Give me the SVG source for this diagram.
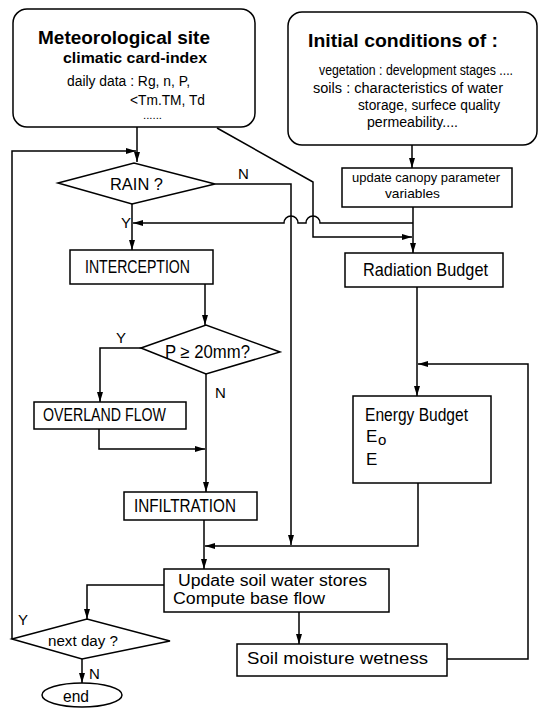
<svg xmlns="http://www.w3.org/2000/svg" width="540" height="716" viewBox="0 0 540 716">
<style>
.box{fill:#fff;stroke:#000;stroke-width:1.5}
.ln{fill:none;stroke:#000;stroke-width:1.5}
text{font-family:"Liberation Sans",Arial,sans-serif;fill:#000}
.b{font-weight:bold}
</style>
<defs>
<marker id="ar" markerUnits="userSpaceOnUse" markerWidth="10" markerHeight="6" refX="10" refY="3" orient="auto">
<path d="M0,0 L10,3 L0,6 z" fill="#000"/>
</marker>
</defs>
<rect width="540" height="716" fill="#fff"/>

<g id="connectors">
<path class="ln" d="M137 127 L137 162" marker-end="url(#ar)"/>
<path class="ln" d="M12 639 L12 151 L136 151" marker-end="url(#ar)"/>
<path class="ln" d="M215 184 L291 184 L291 545" marker-end="url(#ar)"/>
<path class="ln" d="M217 128 L313 182 L313 237 L412 237" marker-end="url(#ar)"/>
<path class="ln" d="M412 145 L412 168" marker-end="url(#ar)"/>
<path class="ln" d="M413 207 L413 253" marker-end="url(#ar)"/>
<path class="ln" d="M413 223 L320 223 A7 7 0 0 0 306 223 L298 223 A7 7 0 0 0 284 223 L133 223" marker-end="url(#ar)"/>
<path class="ln" d="M132 204 L132 250" marker-end="url(#ar)"/>
<path class="ln" d="M205 284 L205 325" marker-end="url(#ar)"/>
<path class="ln" d="M141 348 L100 348 L100 402" marker-end="url(#ar)"/>
<path class="ln" d="M206 374 L206 492" marker-end="url(#ar)"/>
<path class="ln" d="M99 429 L99 449 L205 449" marker-end="url(#ar)"/>
<path class="ln" d="M204 520 L204 569" marker-end="url(#ar)"/>
<path class="ln" d="M418 483 L418 546 L205 546" marker-end="url(#ar)"/>
<path class="ln" d="M164 585 L87 585 L87 619" marker-end="url(#ar)"/>
<path class="ln" d="M299 612 L299 644" marker-end="url(#ar)"/>
<path class="ln" d="M447 659 L528 659 L528 364 L418 364" marker-end="url(#ar)"/>
<path class="ln" d="M417 287 L417 396" marker-end="url(#ar)"/>
<path class="ln" d="M82 659 L82 683" marker-end="url(#ar)"/>
<text x="238" y="179" font-size="15">N</text>
<text x="121" y="228" font-size="15">Y</text>
<text x="116" y="343" font-size="15">Y</text>
<text x="215" y="398" font-size="15">N</text>
<text x="18" y="625" font-size="15">Y</text>
<text x="89" y="679" font-size="15">N</text>
</g>

<g id="meteo">
<rect class="box" x="13" y="9" width="242" height="118" rx="14"/>
<text class="b" x="38" y="44" font-size="18" textLength="172" lengthAdjust="spacingAndGlyphs">Meteorological site</text>
<text class="b" x="63" y="63" font-size="15" textLength="144" lengthAdjust="spacingAndGlyphs">climatic card-index</text>
<text x="67" y="86" font-size="14" textLength="123" lengthAdjust="spacingAndGlyphs">daily data : Rg, n, P,</text>
<text x="130" y="105" font-size="14" textLength="75" lengthAdjust="spacingAndGlyphs">&lt;Tm.TM, Td</text>
<text x="143" y="119" font-size="10" textLength="19" lengthAdjust="spacingAndGlyphs">......</text>
</g>

<g id="initial">
<rect class="box" x="288" y="12" width="249" height="133" rx="14"/>
<text class="b" x="308" y="47" font-size="19" textLength="190" lengthAdjust="spacingAndGlyphs">Initial conditions of :</text>
<text x="319" y="75" font-size="14" textLength="194" lengthAdjust="spacingAndGlyphs">vegetation : development stages ....</text>
<text x="313" y="93" font-size="14" textLength="190" lengthAdjust="spacingAndGlyphs">soils : characteristics of water</text>
<text x="358" y="110" font-size="14" textLength="142" lengthAdjust="spacingAndGlyphs">storage, surfece quality</text>
<text x="367" y="127" font-size="14" textLength="91" lengthAdjust="spacingAndGlyphs">permeability....</text>
</g>

<g id="canopy">
<rect class="box" x="342" y="168" width="170" height="39"/>
<text x="352" y="182" font-size="13" textLength="148" lengthAdjust="spacingAndGlyphs">update canopy parameter</text>
<text x="385" y="198" font-size="13" textLength="55" lengthAdjust="spacingAndGlyphs">variables</text>
</g>

<g id="rain">
<polygon class="box" points="58,183 134,163 215,184 132,204"/>
<text x="110" y="190" font-size="16" textLength="53" lengthAdjust="spacingAndGlyphs">RAIN ?</text>
</g>

<g id="interception">
<rect class="box" x="70" y="250" width="143" height="34"/>
<text x="85" y="273" font-size="19" textLength="105" lengthAdjust="spacingAndGlyphs">INTERCEPTION</text>
</g>

<g id="p20">
<polygon class="box" points="141,348 206,325 280,352 206,374"/>
<text x="165" y="358" font-size="18" textLength="85" lengthAdjust="spacingAndGlyphs">P ≥ 20mm?</text>
</g>

<g id="overland">
<rect class="box" x="34" y="402" width="152" height="27"/>
<text x="43" y="421" font-size="18" textLength="123" lengthAdjust="spacingAndGlyphs">OVERLAND FLOW</text>
</g>

<g id="infiltration">
<rect class="box" x="124" y="492" width="133" height="28"/>
<text x="134" y="512" font-size="19" textLength="102" lengthAdjust="spacingAndGlyphs">INFILTRATION</text>
</g>

<g id="radiation">
<rect class="box" x="345" y="253" width="158" height="34"/>
<text x="363" y="276" font-size="19" textLength="125" lengthAdjust="spacingAndGlyphs">Radiation Budget</text>
</g>

<g id="energy">
<rect class="box" x="353" y="396" width="138" height="87"/>
<text x="365" y="421" font-size="18" textLength="103" lengthAdjust="spacingAndGlyphs">Energy Budget</text>
<text x="366" y="442" font-size="17">E</text>
<text x="378" y="445" font-size="15">o</text>
<text x="366" y="465" font-size="17">E</text>
</g>

<g id="update">
<rect class="box" x="164" y="569" width="225" height="43"/>
<text x="178" y="586" font-size="16" textLength="189" lengthAdjust="spacingAndGlyphs">Update soil water stores</text>
<text x="173" y="604" font-size="16" textLength="152" lengthAdjust="spacingAndGlyphs">Compute base flow</text>
</g>

<g id="soilmoisture">
<rect class="box" x="237" y="644" width="210" height="32"/>
<text x="247" y="664" font-size="17" textLength="181" lengthAdjust="spacingAndGlyphs">Soil  moisture wetness</text>
</g>

<g id="nextday">
<polygon class="box" points="12,639 87,619 170,641 82,659"/>
<text x="48" y="646" font-size="14" textLength="70" lengthAdjust="spacingAndGlyphs">next day  ?</text>
</g>

<g id="end">
<ellipse class="box" cx="82" cy="695" rx="40" ry="12"/>
<text x="63" y="702" font-size="17" textLength="26" lengthAdjust="spacingAndGlyphs">end</text>
</g>
</svg>
